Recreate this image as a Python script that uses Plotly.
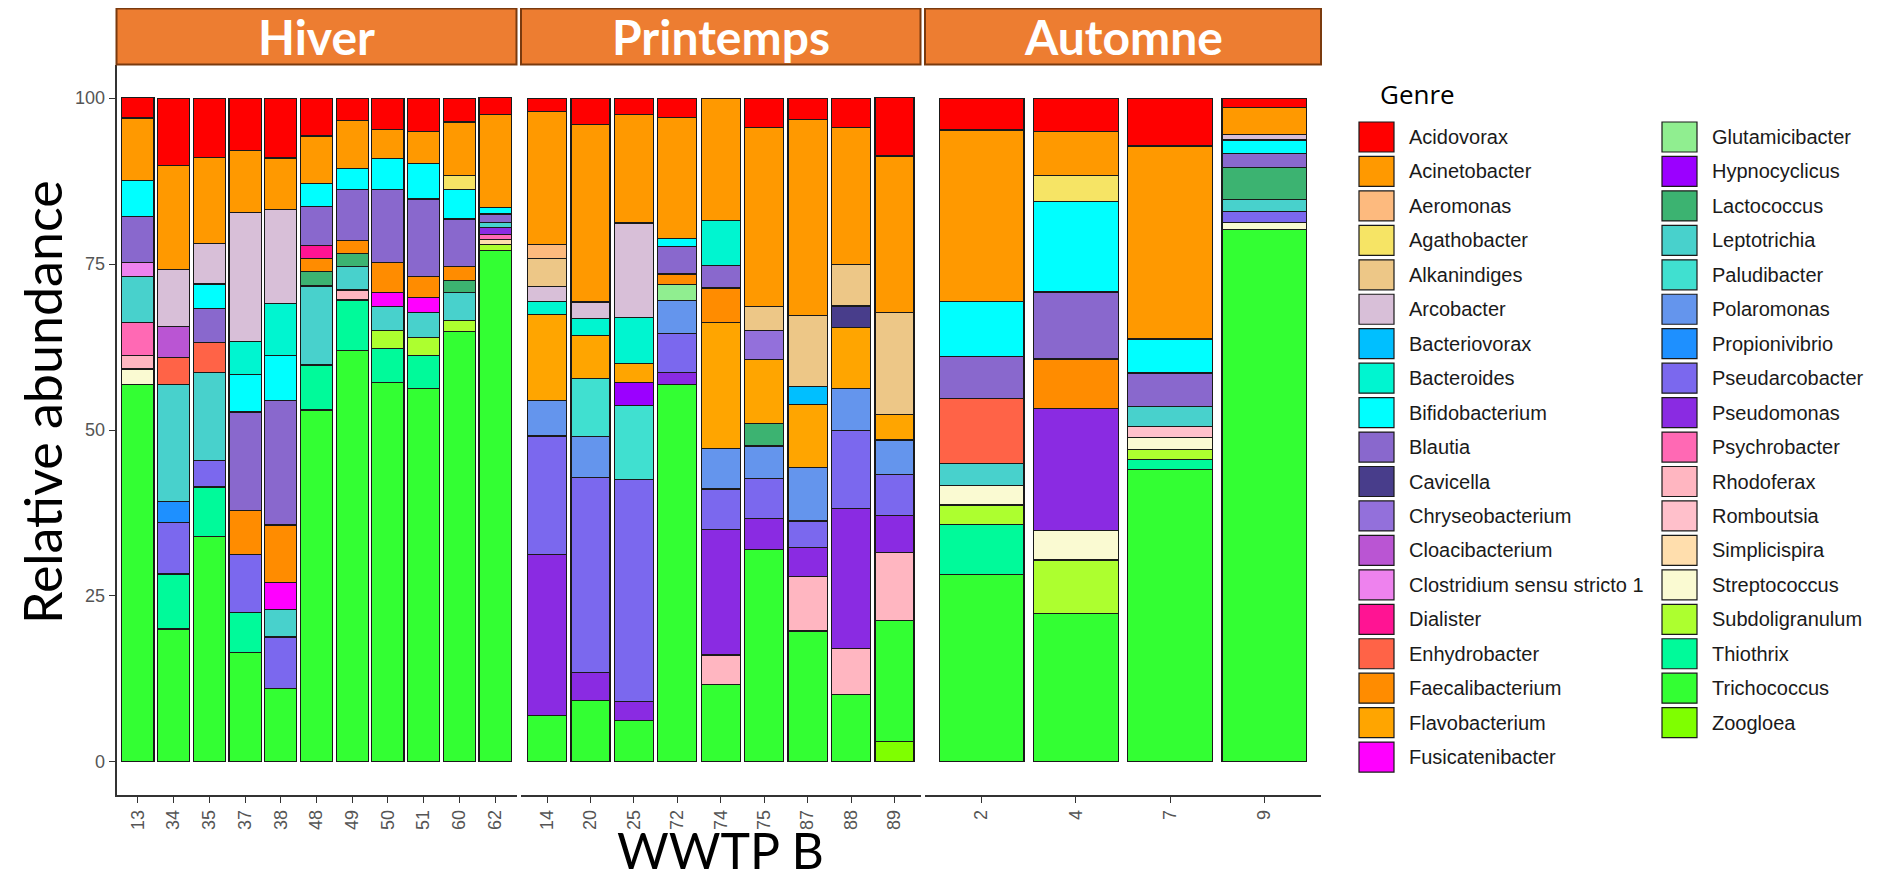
import plotly.graph_objects as go

W, H = 1883, 890
# the page body has an 8px margin: keep the figure inside the window
FW, FH = W - 16, H - 16
OFF = 8

# ---------------- data ----------------
seasons = ["Hiver", "Printemps", "Automne"]
samples_hiver = ["13", "34", "35", "37", "38", "48", "49", "50", "51", "60", "62"]
samples_printemps = ["14", "20", "25", "72", "74", "75", "87", "88", "89"]
samples_automne = ["2", "4", "7", "9"]

genres = ["Acidovorax", "Acinetobacter", "Aeromonas", "Agathobacter", "Alkanindiges",
          "Arcobacter", "Bacteriovorax", "Bacteroides", "Bifidobacterium", "Blautia",
          "Cavicella", "Chryseobacterium", "Cloacibacterium", "Clostridium sensu stricto 1",
          "Dialister", "Enhydrobacter", "Faecalibacterium", "Flavobacterium", "Fusicatenibacter",
          "Glutamicibacter", "Hypnocyclicus", "Lactococcus", "Leptotrichia", "Paludibacter",
          "Polaromonas", "Propionivibrio", "Pseudarcobacter", "Pseudomonas", "Psychrobacter",
          "Rhodoferax", "Romboutsia", "Simplicispira", "Streptococcus", "Subdoligranulum",
          "Thiothrix", "Trichococcus", "Zoogloea"]

genre_colors = ["#FF0000", "#FF9900", "#FDBA7E", "#F6E465", "#EDC787",
                "#D8BFD8", "#00BFFF", "#00F5D0", "#00FFFF", "#8968CD",
                "#483D8B", "#9370DB", "#BA55D3", "#EE82EE",
                "#FF1493", "#FF6347", "#FF8C00", "#FFA500", "#FF00FF",
                "#90EE90", "#9B00FF", "#3CB371", "#48D1CC", "#40E0D0",
                "#6495ED", "#1E90FF", "#7B68EE", "#8A2BE2", "#FF69B4",
                "#FFB6C1", "#FFC0CB", "#FFDEAD", "#FAFAD2", "#ADFF2F",
                "#00FA9A", "#33FF33", "#7FFF00"]

# relative abundance (%) per genre, samples in order:
# Hiver 13,34,35,37,38,48,49,50,51,60,62 | Printemps 14,20,25,72,74,75,87,88,89 | Automne 2,4,7,9
acidovorax       = [3.1, 10.1, 8.9, 7.9, 9.0, 5.7, 3.4, 4.7, 5.0, 3.6, 2.5, 2.0, 4.0, 2.5, 2.9, 0, 4.4, 3.2, 4.4, 8.8, 4.8, 5.0, 7.2, 1.4]
acinetobacter    = [9.4, 15.6, 13.0, 9.3, 7.8, 7.2, 7.2, 4.4, 4.9, 8.1, 14.0, 20.1, 26.7, 16.3, 18.2, 18.4, 27.0, 29.6, 20.7, 23.6, 25.8, 6.7, 29.1, 4.1]
aeromonas        = [0, 0, 0, 0, 0, 0, 0, 0, 0, 0, 0, 2.1, 0, 0, 0, 0, 0, 0, 0, 0, 0, 0, 0, 0]
agathobacter     = [0, 0, 0, 0, 0, 0, 0, 0, 0, 2.0, 0, 0, 0, 0, 0, 0, 0, 0, 0, 0, 0, 3.9, 0, 0]
alkanindiges     = [0, 0, 0, 0, 0, 0, 0, 0, 0, 0, 0, 4.2, 0, 0, 0, 0, 3.6, 10.6, 6.2, 15.4, 0, 0, 0, 0]
arcobacter       = [0, 8.6, 6.1, 19.5, 14.1, 0, 0, 0, 0, 0, 0, 2.2, 2.5, 14.2, 0, 0, 0, 0, 0, 0, 0, 0, 0, 0.8]
bacteriovorax    = [0, 0, 0, 0, 0, 0, 0, 0, 0, 0, 0, 0, 0, 0, 0, 0, 0, 2.7, 0, 0, 0, 0, 0, 0]
bacteroides      = [0, 0, 0, 4.9, 7.9, 0, 0, 0, 0, 0, 0, 2.0, 2.5, 7.0, 0, 6.8, 0, 0, 0, 0, 0, 0, 0, 0]
bifidobacterium  = [5.4, 0, 3.7, 5.7, 6.8, 3.4, 3.1, 4.6, 5.3, 4.5, 1.0, 0, 0, 0, 1.3, 0, 0, 0, 0, 0, 8.3, 13.6, 5.1, 2.0]
blautia          = [7.0, 0, 5.1, 14.8, 18.7, 5.9, 7.8, 11.0, 11.7, 7.2, 1.3, 0, 0, 0, 4.1, 3.4, 0, 0, 0, 0, 6.3, 10.1, 5.0, 2.1]
cavicella        = [0, 0, 0, 0, 0, 0, 0, 0, 0, 0, 0, 0, 0, 0, 0, 0, 0, 0, 3.3, 0, 0, 0, 0, 0]
chryseobacterium = [0, 0, 0, 0, 0, 0, 0, 0, 0, 0, 0, 0, 0, 0, 0, 0, 4.4, 0, 0, 0, 0, 0, 0, 0]
cloacibacterium  = [0, 4.7, 0, 0, 0, 0, 0, 0, 0, 0, 0, 0, 0, 0, 0, 0, 0, 0, 0, 0, 0, 0, 0, 0]
clostridium      = [2.1, 0, 0, 0, 0, 0, 0, 0, 0, 0, 0, 0, 0, 0, 0, 0, 0, 0, 0, 0, 0, 0, 0, 0]
dialister        = [0, 0, 0, 0, 0, 1.9, 0, 0, 0, 0, 0, 0, 0, 0, 0, 0, 0, 0, 0, 0, 0, 0, 0, 0]
enhydrobacter    = [0, 4.0, 4.5, 0, 0, 0, 0, 0, 0, 0, 0, 0, 0, 0, 0, 0, 0, 0, 0, 0, 9.8, 0, 0, 0]
faecalibacterium = [0, 0, 0, 6.6, 8.7, 2.0, 1.9, 4.6, 3.1, 2.1, 0, 0, 0, 0, 1.6, 5.2, 0, 0, 0, 0, 0, 7.5, 0, 0]
flavobacterium   = [0, 0, 0, 0, 0, 0, 0, 0, 0, 0, 0, 13.0, 6.5, 2.9, 0, 19.0, 9.6, 9.6, 9.1, 3.8, 0, 0, 0, 0]
fusicatenibacter = [0, 0, 0, 0, 4.0, 0, 0, 2.1, 2.3, 0, 0, 0, 0, 0, 0, 0, 0, 0, 0, 0, 0, 0, 0, 0]
glutamicibacter  = [0, 0, 0, 0, 0, 0, 0, 0, 0, 0, 0, 0, 0, 0, 2.4, 0, 0, 0, 0, 0, 0, 0, 0, 0]
hypnocyclicus    = [0, 0, 0, 0, 0, 0, 0, 0, 0, 0, 0, 0, 0, 3.4, 0, 0, 0, 0, 0, 0, 0, 0, 0, 0]
lactococcus      = [0, 0, 0, 0, 0, 2.2, 2.0, 0, 0, 1.8, 0, 0, 0, 0, 0, 0, 3.4, 0, 0, 0, 0, 0, 0, 4.9]
leptotrichia     = [6.9, 17.7, 13.3, 0, 4.2, 11.9, 3.5, 3.6, 3.8, 4.2, 0.7, 0, 0, 0, 0, 0, 0, 0, 0, 0, 3.4, 0, 3.1, 1.8]
paludibacter     = [0, 0, 0, 0, 0, 0, 0, 0, 0, 0, 0, 0, 8.8, 11.2, 0, 0, 0, 0, 0, 0, 0, 0, 0, 0]
polaromonas      = [0, 0, 0, 0, 0, 0, 0, 0, 0, 0, 0, 5.3, 6.1, 0, 4.9, 6.1, 4.9, 8.0, 6.4, 5.2, 0, 0, 0, 0]
propionivibrio   = [0, 3.1, 0, 0, 0, 0, 0, 0, 0, 0, 0, 0, 0, 0, 0, 0, 0, 0, 0, 0, 0, 0, 0, 0]
pseudarcobacter  = [0, 7.8, 4.0, 8.8, 7.7, 0, 0, 0, 0, 0, 0, 17.9, 29.4, 33.4, 5.9, 6.1, 6.0, 4.0, 11.7, 6.2, 0, 0, 0, 1.6]
pseudomonas      = [0, 0, 0, 0, 0, 0, 0, 0, 0, 0, 1.1, 24.2, 4.2, 2.9, 1.9, 18.9, 4.7, 4.4, 21.1, 5.5, 0, 18.4, 0, 0]
psychrobacter    = [5.0, 0, 0, 0, 0, 0, 0, 0, 0, 0, 0.8, 0, 0, 0, 0, 0, 0, 0, 0, 0, 0, 0, 0, 0]
rhodoferax       = [2.0, 0, 0, 0, 0, 0, 1.5, 0, 0, 0, 0, 0, 0, 0, 0, 4.5, 0, 8.2, 6.9, 10.3, 0, 0, 0, 0]
romboutsia       = [0, 0, 0, 0, 0, 0, 0, 0, 0, 0, 0, 0, 0, 0, 0, 0, 0, 0, 0, 0, 0, 0, 1.6, 0]
simplicispira    = [0, 0, 0, 0, 0, 0, 0, 0, 0, 0, 0.65, 0, 0, 0, 0, 0, 0, 0, 0, 0, 0, 0, 0, 0]
streptococcus    = [2.3, 0, 0, 0, 0, 0, 0, 0, 0, 0, 0, 0, 0, 0, 0, 0, 0, 0, 0, 0, 2.9, 4.4, 1.8, 1.1]
subdoligranulum  = [0, 0, 0, 0, 0, 0, 0, 2.7, 2.7, 1.7, 1.0, 0, 0, 0, 0, 0, 0, 0, 0, 0, 2.9, 8.1, 1.6, 0]
thiothrix        = [0, 8.3, 7.4, 6.0, 0, 6.8, 7.6, 5.2, 4.9, 0, 0, 0, 0, 0, 0, 0, 0, 0, 0, 0, 7.6, 0, 1.5, 0]
trichococcus     = [56.9, 20.0, 34.0, 16.5, 11.1, 53.0, 62.0, 57.1, 56.3, 64.8, 77.0, 7.0, 9.3, 6.2, 56.8, 11.6, 32.0, 19.7, 10.2, 18.2, 28.2, 22.3, 44.0, 80.2]
zoogloea         = [0, 0, 0, 0, 0, 0, 0, 0, 0, 0, 0, 0, 0, 0, 0, 0, 0, 0, 0, 3.1, 0, 0, 0, 0]

genre_values = [acidovorax, acinetobacter, aeromonas, agathobacter, alkanindiges,
                arcobacter, bacteriovorax, bacteroides, bifidobacterium, blautia,
                cavicella, chryseobacterium, cloacibacterium, clostridium,
                dialister, enhydrobacter, faecalibacterium, flavobacterium, fusicatenibacter,
                glutamicibacter, hypnocyclicus, lactococcus, leptotrichia, paludibacter,
                polaromonas, propionivibrio, pseudarcobacter, pseudomonas, psychrobacter,
                rhodoferax, romboutsia, simplicispira, streptococcus, subdoligranulum,
                thiothrix, trichococcus, zoogloea]

y_ticks = [0, 25, 50, 75, 100]

# ---------------- layout helpers (window pixels -> paper) ----------------
def px(x):
    return (x - OFF) / FW

def py(y):
    return 1 - (y - OFF) / FH

facet_samples = [samples_hiver, samples_printemps, samples_automne]
facet_px = [(116.5, 516.5), (521.0, 920.5), (925.0, 1321.0)]
panel_top, panel_bottom = 65.0, 795.0
strip_top = 8.5
axis_col = "#333333"
tick_col = "#555555"

fig = go.Figure()

offset = 0
for k, samples in enumerate(facet_samples):
    n = len(samples)
    xa = "x" if k == 0 else f"x{k + 1}"
    for g in range(len(genres) - 1, -1, -1):  # bottom of stack first
        vals = genre_values[g][offset:offset + n]
        ys = [v if v > 0 else None for v in vals]
        if all(v is None for v in ys):
            continue
        fig.add_trace(go.Bar(
            x=samples, y=ys, name=genres[g], xaxis=xa, yaxis="y",
            marker=dict(color=genre_colors[g], line=dict(color="#1A1A1A", width=1.2)),
            showlegend=False,
        ))
    offset += n

layout = dict(
    width=FW, height=FH,
    margin=dict(l=0, r=0, t=0, b=0),
    paper_bgcolor="white", plot_bgcolor="white",
    barmode="stack", bargap=0.1,
    font=dict(family="Liberation Sans, Arial, sans-serif", color="black"),
    yaxis=dict(
        domain=[py(panel_bottom), py(panel_top)], range=[-5, 105],
        tickvals=y_ticks, ticktext=[str(t) for t in y_ticks],
        showgrid=False, zeroline=False, showline=True, linecolor=axis_col, linewidth=1.6,
        ticks="outside", ticklen=6, tickwidth=1.4, tickcolor=axis_col,
        tickfont=dict(size=18, color=tick_col), anchor="x",
    ),
)
for k, samples in enumerate(facet_samples):
    n = len(samples)
    key = "xaxis" if k == 0 else f"xaxis{k + 1}"
    x0, x1 = facet_px[k]
    layout[key] = dict(
        domain=[px(x0), px(x1)], type="category", categoryorder="array",
        categoryarray=samples, range=[-0.6, n - 0.4], anchor="y",
        showgrid=False, zeroline=False, showline=True, linecolor=axis_col, linewidth=1.6,
        ticks="outside", ticklen=6, tickwidth=1.4, tickcolor=axis_col,
        tickangle=-90, tickfont=dict(size=18, color=tick_col),
    )
fig.update_layout(**layout)

shapes = []
annotations = []

# facet strips
for k, season in enumerate(seasons):
    x0, x1 = facet_px[k]
    shapes.append(dict(type="rect", xref="paper", yref="paper",
                       x0=px(x0), x1=px(x1), y0=py(panel_top - 0.5), y1=py(strip_top),
                       fillcolor="#ED7D31", line=dict(color="#7A3A0E", width=2)))
    annotations.append(dict(x=px((x0 + x1) / 2), y=py((strip_top + panel_top) / 2),
                            xref="paper", yref="paper", text=f"<b>{season}</b>",
                            showarrow=False, xanchor="center", yanchor="middle",
                            font=dict(family="Lato, Open Sans, sans-serif", size=48, color="white")))

# axis titles
annotations.append(dict(x=px(42), y=py(402), xref="paper", yref="paper",
                        text="Relative abundance", textangle=-90, showarrow=False,
                        xanchor="center", yanchor="middle",
                        font=dict(family="Lato, sans-serif", size=52, color="black")))
annotations.append(dict(x=px(720), y=0, xref="paper", yref="paper",
                        text="WWTP B", showarrow=False, xanchor="center", yanchor="bottom",
                        font=dict(family="Lato, sans-serif", size=50, color="black")))

# legend (two columns)
annotations.append(dict(x=px(1378), y=py(94), xref="paper", yref="paper",
                        text="Genre", showarrow=False, xanchor="left", yanchor="middle",
                        font=dict(family="Open Sans, sans-serif", size=26, color="black")))
row0, row_step = 137.0, 34.45
key_w, key_h = 35.0, 30.0
col_x = [1359.0, 1662.0]
per_col = 19
for i, (g, c) in enumerate(zip(genres, genre_colors)):
    col = i // per_col
    row = i % per_col
    cy = row0 + row * row_step
    kx = col_x[col]
    shapes.append(dict(type="rect", xref="paper", yref="paper",
                       x0=px(kx), x1=px(kx + key_w), y0=py(cy + key_h / 2), y1=py(cy - key_h / 2),
                       fillcolor=c, line=dict(color="#1A1A1A", width=1.2)))
    annotations.append(dict(x=px(kx + key_w + 13), y=py(cy), xref="paper", yref="paper",
                            text=g, showarrow=False, xanchor="left", yanchor="middle",
                            font=dict(family="Liberation Sans, Arial, sans-serif", size=20, color="#1A1A1A")))

fig.update_layout(shapes=shapes, annotations=annotations)
fig.write_html("out.html")
